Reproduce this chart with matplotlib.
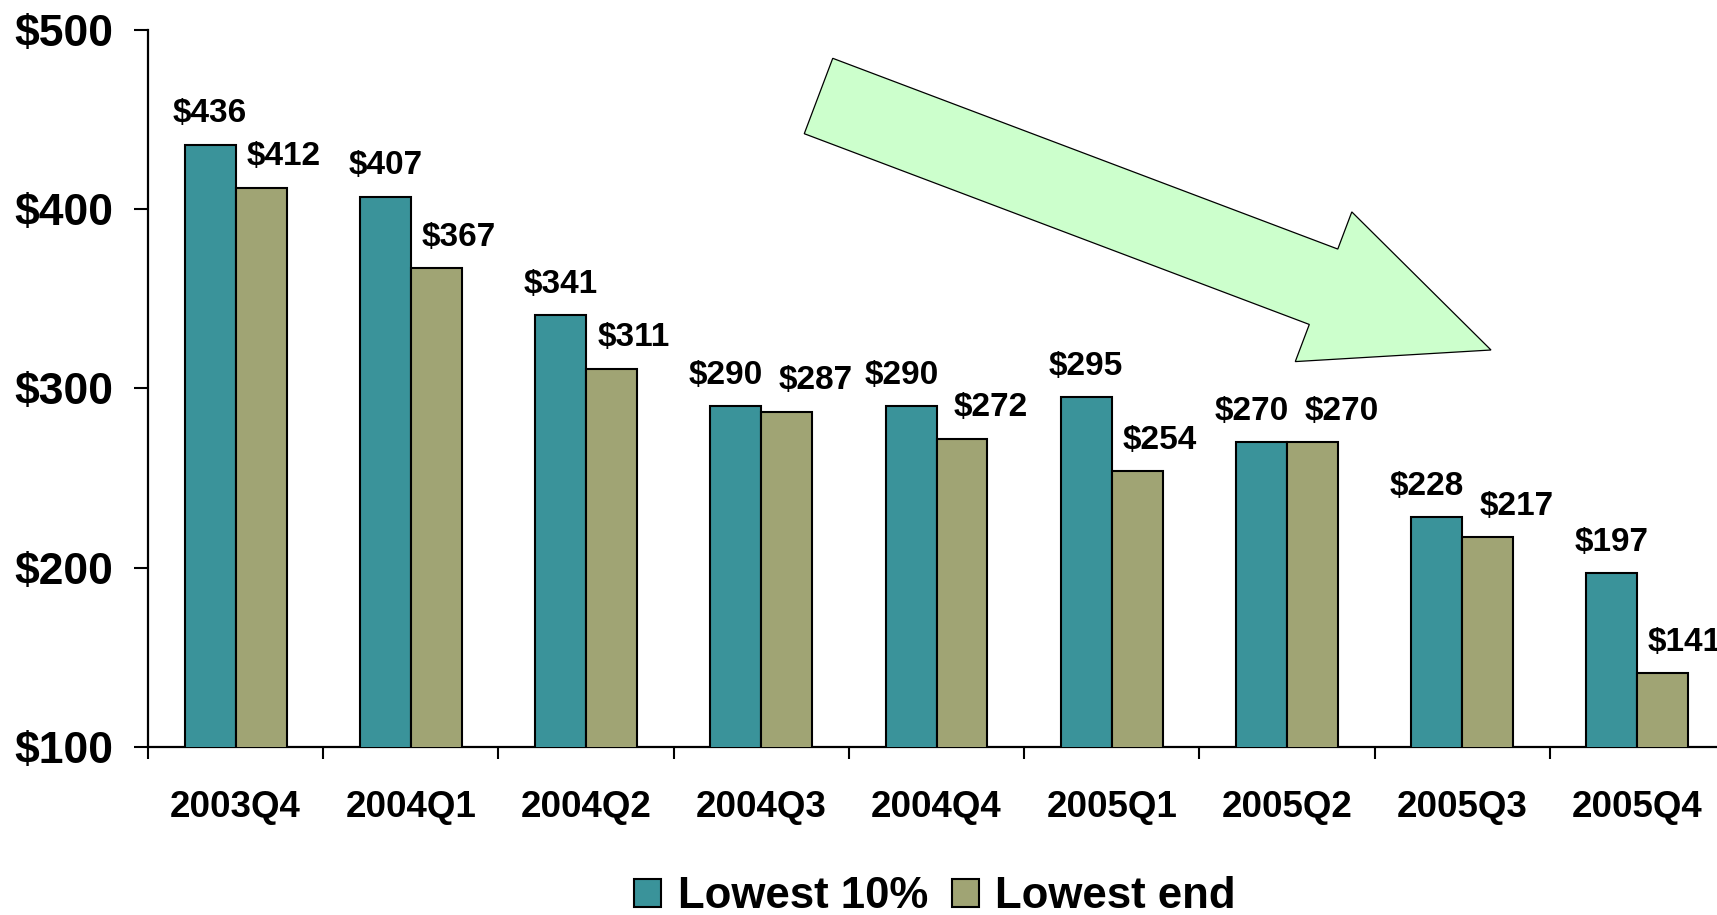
import numpy as np
import matplotlib
matplotlib.use("Agg")
import matplotlib.pyplot as plt
from matplotlib.patches import FancyArrow, Patch

plt.rcParams['font.family'] = ['Liberation Sans', 'DejaVu Sans']
plt.rcParams['font.weight'] = 'bold'

quarters = ["2003Q4", "2004Q1", "2004Q2", "2004Q3", "2004Q4",
            "2005Q1", "2005Q2", "2005Q3", "2005Q4"]
lowest_10pct = [436, 407, 341, 290, 290, 295, 270, 228, 197]
lowest_end = [412, 367, 311, 287, 272, 254, 270, 217, 141]
series_names = ["Lowest 10%", "Lowest end"]
y_ticks = [100, 200, 300, 400, 500]

teal = "#3A939A"
olive = "#A0A474"

fig = plt.figure(figsize=(17.17, 9.15), dpi=100)
ax = fig.add_axes([148 / 1717, 1 - 746.7 / 915, 1577 / 1717, 716.7 / 915])

x = np.arange(len(quarters))
bw = 0.291
ax.bar(x - bw / 2, lowest_10pct, bw, bottom=0, color=teal,
       edgecolor="black", linewidth=1.5, zorder=3)
ax.bar(x + bw / 2, lowest_end, bw, bottom=0, color=olive,
       edgecolor="black", linewidth=1.5, zorder=3)

ax.set_xlim(-0.5, len(quarters) - 0.5)
ax.set_ylim(100, 500)

# value labels above each bar; pairs of near-equal values are spread apart
for xi, a, b in zip(x, lowest_10pct, lowest_end):
    close = abs(a - b) < 20
    ax.annotate(f"${a}", (xi - bw / 2, a), xytext=(-7 if close else 0, 16),
                textcoords="offset points", ha="center", va="baseline",
                fontsize=24, fontweight="bold", annotation_clip=False)
    ax.annotate(f"${b}", (xi + bw / 2, b), xytext=(21 if close else 16, 16),
                textcoords="offset points", ha="center", va="baseline",
                fontsize=24, fontweight="bold", annotation_clip=False)

for s in ("top", "right"):
    ax.spines[s].set_visible(False)
for s in ("left", "bottom"):
    ax.spines[s].set_linewidth(1.6)

ax.set_yticks(y_ticks)
ax.set_yticklabels([f"${t}" for t in y_ticks], fontsize=32, fontweight="bold")
ax.tick_params(axis="y", direction="out", length=10, width=1.5, pad=15)

ax.set_xticks(x)
ax.set_xticklabels(quarters, fontsize=26.5, fontweight="bold")
ax.set_xticks(np.arange(-0.5, len(quarters), 1.0), minor=True)
ax.tick_params(axis="x", which="major", length=0, pad=31)
ax.tick_params(axis="x", which="minor", direction="out", length=8.6, width=1.5)

# downward trend arrow
arrow = FancyArrow(8.185, 8.19, 6.725, -2.54, width=0.806, head_width=1.60,
                   head_length=1.79, length_includes_head=True,
                   transform=fig.dpi_scale_trans, facecolor="#CCFFCC",
                   edgecolor="black", linewidth=0.9, zorder=5)
fig.patches.append(arrow)

handles = [Patch(facecolor=teal, edgecolor="black", linewidth=1.5),
           Patch(facecolor=olive, edgecolor="black", linewidth=1.5)]
fig.legend(handles, series_names, loc="center", ncol=2, frameon=False,
           bbox_to_anchor=(935 / 1717, 1 - 897 / 915),
           prop={"size": 31.5, "weight": "bold"},
           handlelength=0.62, handleheight=0.6, handletextpad=0.37,
           columnspacing=0.55, borderpad=0, borderaxespad=0)

fig.savefig("out.png", dpi=100)
